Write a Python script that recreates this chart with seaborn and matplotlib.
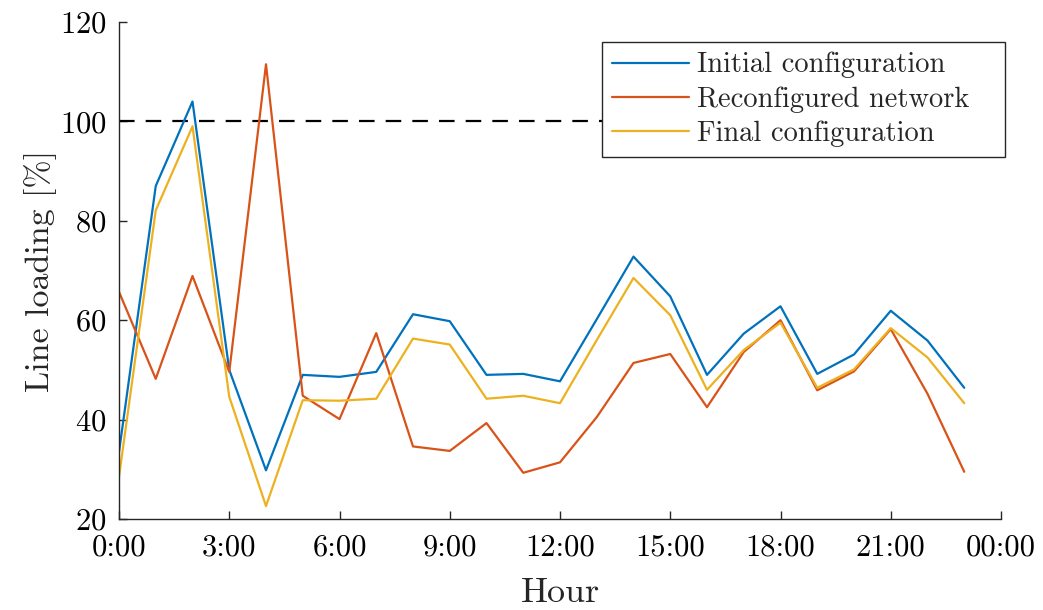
import numpy as np
import pandas as pd
import matplotlib
matplotlib.use("Agg")
import matplotlib.pyplot as plt
import seaborn as sns

# hourly line loading in percent
hours = list(range(24))
initial = [33.5, 87.0, 104.0, 50.0, 29.8, 49.0, 48.6, 49.6, 61.2, 59.8, 49.0, 49.2,
           47.7, 60.2, 72.8, 64.8, 49.0, 57.3, 62.8, 49.2, 53.1, 61.9, 55.9, 46.4]
reconfigured = [65.7, 48.2, 68.9, 49.6, 111.5, 44.8, 40.1, 57.4, 34.6, 33.7, 39.3, 29.3,
                31.4, 40.5, 51.4, 53.2, 42.5, 53.6, 60.0, 45.9, 49.7, 58.2, 45.2, 29.5]
final = [28.5, 82.1, 99.0, 44.6, 22.6, 43.9, 43.8, 44.2, 56.3, 55.1, 44.2, 44.8,
         43.3, 56.0, 68.5, 61.0, 46.0, 54.0, 59.5, 46.4, 50.1, 58.4, 52.5, 43.3]
series_names = ["Initial configuration", "Reconfigured network", "Final configuration"]
limit = 100
tick_hours = [0, 3, 6, 9, 12, 15, 18, 21, 24]
tick_labels = ["0:00", "3:00", "6:00", "9:00", "12:00", "15:00", "18:00", "21:00", "00:00"]

df = pd.DataFrame({
    "Hour": hours * 3,
    "Loading": initial + reconfigured + final,
    "Series": [n for n in series_names for _ in hours],
})

sns.set_style("ticks")
plt.rcParams["font.family"] = ["cmr10", "DejaVu Serif"]
plt.rcParams["mathtext.fontset"] = "cm"
plt.rcParams["axes.unicode_minus"] = False
plt.rcParams["axes.formatter.use_mathtext"] = True

fig = plt.figure(figsize=(10.43, 6.10), dpi=100)
ax = fig.add_axes([119 / 1043, 1 - 519 / 610, (1001 - 119) / 1043, (519 - 22) / 610])

palette = ["#0072BD", "#D95319", "#EDB120"]
sns.lineplot(data=df, x="Hour", y="Loading", hue="Series", palette=palette,
             linewidth=1.6, ax=ax)
ax.axhline(limit, color="black", linewidth=1.6, linestyle=(0, (7, 5)), zorder=1)

ax.set_xlim(0, 24)
ax.set_ylim(20, 120)
ax.set_xticks(tick_hours)
ax.set_xticklabels(tick_labels)
ax.set_yticks(range(20, 121, 20))
ax.tick_params(direction="in", length=6, width=1.0, labelsize=22, colors="#262626",
               labelcolor="black")
ax.tick_params(axis="x", pad=11)
ax.tick_params(axis="y", pad=9)
ax.set_xlabel("Hour", fontsize=26, labelpad=11)
ax.set_ylabel("Line loading [%]", fontsize=24.5, labelpad=2)
for side in ["top", "right"]:
    ax.spines[side].set_visible(False)
for side in ["left", "bottom"]:
    ax.spines[side].set_linewidth(1.0)
    ax.spines[side].set_color("#262626")

# legend box spans x 602-1005, y 42-156 px in the reference
leg = ax.legend(loc="upper left", mode="expand",
                bbox_to_anchor=(602 / 1043, 1 - 156 / 610, 403 / 1043, 114 / 610),
                bbox_transform=fig.transFigure, borderaxespad=0, fontsize=20.5,
                frameon=True, fancybox=False, edgecolor="#262626", framealpha=1,
                handlelength=2.7, handletextpad=0.3, labelspacing=0.27,
                borderpad=0.35)
leg.get_frame().set_linewidth(1.0)
leg.set_title(None)

fig.savefig("out.png", dpi=100)
